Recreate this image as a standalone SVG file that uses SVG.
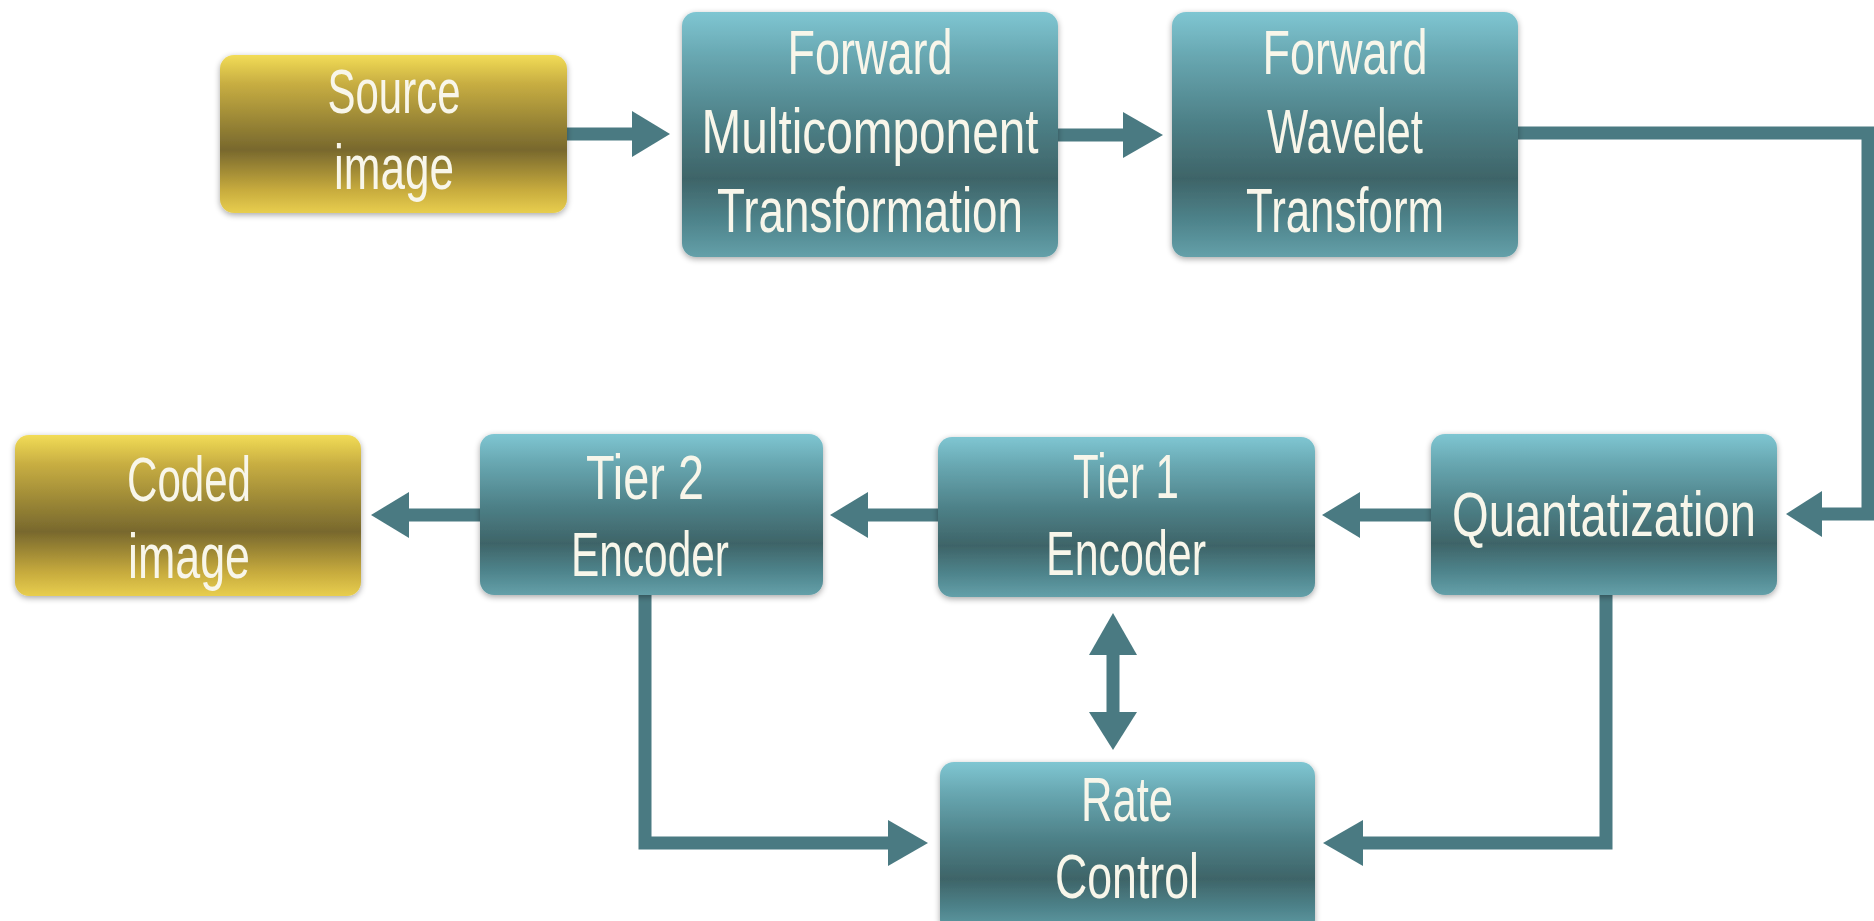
<svg xmlns="http://www.w3.org/2000/svg" width="1874" height="921" viewBox="0 0 1874 921">
  <style>
    .lbl { font-family: "Liberation Sans Narrow", "Liberation Sans", "DejaVu Sans Condensed", sans-serif; font-size: 63px; fill: #f8f6ea; text-anchor: middle; }
    .teal { fill: url(#gTeal); filter: url(#shadow); }
    .gold { fill: url(#gGold); filter: url(#shadow); }
    .wire { fill: none; stroke: #4a7a82; stroke-width: 13; stroke-linejoin: miter; }
    .head { fill: #4a7a82; }
  </style>
  <defs>
    <linearGradient id="gTeal" x1="0" y1="0" x2="0" y2="1">
      <stop offset="0" stop-color="#7fc6d2"/>
      <stop offset="0.18" stop-color="#68a7b1"/>
      <stop offset="0.45" stop-color="#4d8087"/>
      <stop offset="0.68" stop-color="#3e6468"/>
      <stop offset="0.86" stop-color="#4f858d"/>
      <stop offset="1" stop-color="#64a0a9"/>
    </linearGradient>
    <linearGradient id="gGold" x1="0" y1="0" x2="0" y2="1">
      <stop offset="0" stop-color="#f2dc56"/>
      <stop offset="0.18" stop-color="#c8ae42"/>
      <stop offset="0.45" stop-color="#948134"/>
      <stop offset="0.6" stop-color="#78682d"/>
      <stop offset="0.85" stop-color="#c6aa3d"/>
      <stop offset="1" stop-color="#e8ce4e"/>
    </linearGradient>
    <filter id="shadow" x="-10%" y="-10%" width="120%" height="125%">
      <feGaussianBlur in="SourceAlpha" stdDeviation="3"/>
      <feOffset dx="0" dy="2" result="blur"/>
      <feComponentTransfer><feFuncA type="linear" slope="0.35"/></feComponentTransfer>
      <feMerge><feMergeNode/><feMergeNode in="SourceGraphic"/></feMerge>
    </filter>
  </defs>

  <rect width="1874" height="921" fill="#ffffff"/>

  <!-- connectors -->
  <g id="connectors">
    <!-- Source image -> Forward Multicomponent Transformation -->
    <line class="wire" x1="567" y1="134" x2="636" y2="134"/>
    <polygon class="head" points="632,111 670,134 632,157"/>
    <!-- Forward Multicomponent -> Forward Wavelet -->
    <line class="wire" x1="1057" y1="135" x2="1127" y2="135"/>
    <polygon class="head" points="1123,112 1163,135 1123,158"/>
    <!-- Forward Wavelet -> Quantatization -->
    <polyline class="wire" points="1518,133 1868,133 1868,514 1818,514"/>
    <polygon class="head" points="1822,491 1786,514 1822,537"/>
    <!-- Quantatization -> Tier 1 -->
    <line class="wire" x1="1431" y1="515" x2="1356" y2="515"/>
    <polygon class="head" points="1360,492 1322,515 1360,538"/>
    <!-- Tier 1 -> Tier 2 -->
    <line class="wire" x1="938" y1="515" x2="864" y2="515"/>
    <polygon class="head" points="868,492 830,515 868,538"/>
    <!-- Tier 2 -> Coded image -->
    <line class="wire" x1="480" y1="515" x2="405" y2="515"/>
    <polygon class="head" points="409,492 371,515 409,538"/>
    <!-- Tier 1 <-> Rate Control -->
    <line class="wire" x1="1113" y1="650" x2="1113" y2="716"/>
    <polygon class="head" points="1089,655 1113,613 1137,655"/>
    <polygon class="head" points="1089,712 1113,750 1137,712"/>
    <!-- Tier 2 -> Rate Control -->
    <polyline class="wire" points="645,595 645,843 892,843"/>
    <polygon class="head" points="888,820 928,843 888,866"/>
    <!-- Quantatization -> Rate Control -->
    <polyline class="wire" points="1606,595 1606,843 1359,843"/>
    <polygon class="head" points="1363,820 1323,843 1363,866"/>
  </g>

  <!-- nodes -->
  <g id="source-image">
    <rect class="gold" x="220" y="55" width="347" height="158" rx="14"/>
    <text class="lbl" x="394" y="113" textLength="133" lengthAdjust="spacingAndGlyphs">Source</text>
    <text class="lbl" x="394" y="189" textLength="120" lengthAdjust="spacingAndGlyphs">image</text>
  </g>

  <g id="forward-multicomponent">
    <rect class="teal" x="682" y="12" width="376" height="245" rx="14"/>
    <text class="lbl" x="870" y="74" textLength="165" lengthAdjust="spacingAndGlyphs">Forward</text>
    <text class="lbl" x="870" y="153" textLength="337" lengthAdjust="spacingAndGlyphs">Multicomponent</text>
    <text class="lbl" x="870" y="232" textLength="306" lengthAdjust="spacingAndGlyphs">Transformation</text>
  </g>

  <g id="forward-wavelet">
    <rect class="teal" x="1172" y="12" width="346" height="245" rx="14"/>
    <text class="lbl" x="1345" y="74" textLength="165" lengthAdjust="spacingAndGlyphs">Forward</text>
    <text class="lbl" x="1345" y="153" textLength="156" lengthAdjust="spacingAndGlyphs">Wavelet</text>
    <text class="lbl" x="1345" y="232" textLength="198" lengthAdjust="spacingAndGlyphs">Transform</text>
  </g>

  <g id="quantatization">
    <rect class="teal" x="1431" y="434" width="346" height="161" rx="14"/>
    <text class="lbl" x="1604" y="536" textLength="304" lengthAdjust="spacingAndGlyphs">Quantatization</text>
  </g>

  <g id="tier1-encoder">
    <rect class="teal" x="938" y="437" width="377" height="160" rx="14"/>
    <text class="lbl" x="1126" y="498" textLength="106" lengthAdjust="spacingAndGlyphs">Tier 1</text>
    <text class="lbl" x="1126" y="575" textLength="160" lengthAdjust="spacingAndGlyphs">Encoder</text>
  </g>

  <g id="tier2-encoder">
    <rect class="teal" x="480" y="434" width="343" height="161" rx="14"/>
    <text class="lbl" x="645" y="499" textLength="118" lengthAdjust="spacingAndGlyphs">Tier 2</text>
    <text class="lbl" x="650" y="576" textLength="158" lengthAdjust="spacingAndGlyphs">Encoder</text>
  </g>

  <g id="coded-image">
    <rect class="gold" x="15" y="435" width="346" height="161" rx="14"/>
    <text class="lbl" x="189" y="501" textLength="124" lengthAdjust="spacingAndGlyphs">Coded</text>
    <text class="lbl" x="189" y="578" textLength="122" lengthAdjust="spacingAndGlyphs">image</text>
  </g>

  <g id="rate-control">
    <rect class="teal" x="940" y="762" width="375" height="172" rx="14"/>
    <text class="lbl" x="1127" y="821" textLength="92" lengthAdjust="spacingAndGlyphs">Rate</text>
    <text class="lbl" x="1127" y="898" textLength="144" lengthAdjust="spacingAndGlyphs">Control</text>
  </g>
</svg>
